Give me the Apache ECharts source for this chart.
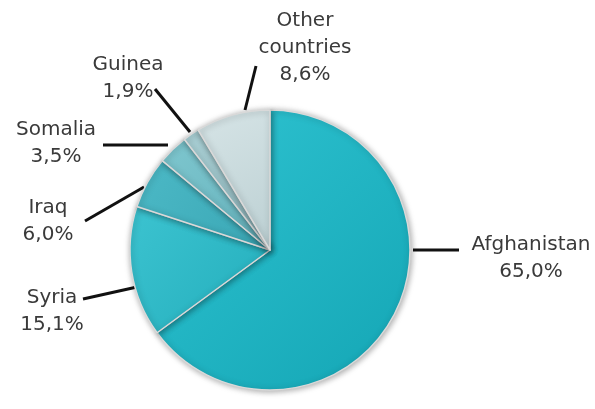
<!DOCTYPE html>
<html style="height: 100%">
<head>
    <meta charset="utf-8">
    <title>Asylum seekers by country</title>
    <script src="https://cdn.jsdelivr.net/npm/echarts@6/dist/echarts.min.js"></script>
</head>
<body style="height: 100%; margin: 0; background: #fff">
    <div id="chart" style="width: 595px; height: 409px"></div>
    <script>
        // data, clockwise from 12 o'clock
        const countries = ['Afghanistan', 'Syria', 'Iraq', 'Somalia', 'Guinea', 'Other countries'];
        const labelNames = ['Afghanistan', 'Syria', 'Iraq', 'Somalia', 'Guinea', 'Other\ncountries'];
        const shares = [65.0, 15.1, 6.0, 3.5, 1.9, 8.6];

        // slice colours (light / dark for the shading)
        const colorsLight = ['#2fc3d1', '#3cc3d0', '#4cb9c6', '#7ec6ce', '#a9cfd4', '#d6e4e6'];
        const colorsDark = ['#14a6b5', '#23aebc', '#3aa7b5', '#66b4be', '#93bcc2', '#bcd0d3'];

        // label anchor (text centre) and leader line for each slice
        const labelPos = [[531, 258], [52, 311], [48, 221], [56, 143], [128, 78], [305, 48]];
        const leaderLines = [
            [[413, 250], [459, 250]],
            [[83, 299], [137, 287]],
            [[85, 221], [144, 187]],
            [[103, 145], [168, 145]],
            [[155, 89], [190, 132]],
            [[256, 66], [245, 110]]
        ];

        const pieData = countries.map((c, i) => ({
            name: c,
            value: shares[i],
            itemStyle: {
                color: new echarts.graphic.LinearGradient(0, 0, 1, 1, [
                    { offset: 0, color: colorsLight[i] },
                    { offset: 1, color: colorsDark[i] }
                ])
            }
        }));

        const chart = echarts.init(document.getElementById('chart'), null, { renderer: 'canvas' });
        chart.setOption({
            animation: false,
            series: [{
                type: 'pie',
                center: [270, 250],
                radius: 140,
                startAngle: 90,
                clockwise: true,
                data: pieData,
                itemStyle: {
                    borderColor: '#d9d9d9',
                    borderWidth: 1.5,
                    shadowColor: 'rgba(0,0,0,0.35)',
                    shadowBlur: 6,
                    shadowOffsetX: 1,
                    shadowOffsetY: 1
                },
                label: {
                    show: true,
                    fontFamily: 'DejaVu Sans',
                    fontSize: 20,
                    lineHeight: 27,
                    color: '#3a3a3a',
                    align: 'center',
                    overflow: 'none',
                    formatter: p => labelNames[p.dataIndex] + '\n' +
                        p.value.toFixed(1).replace('.', ',') + '%'
                },
                labelLine: {
                    show: true,
                    lineStyle: { color: '#111', width: 3 }
                },
                labelLayout: p => ({
                    x: labelPos[p.dataIndex][0],
                    y: labelPos[p.dataIndex][1],
                    align: 'center',
                    verticalAlign: 'middle',
                    labelLinePoints: leaderLines[p.dataIndex]
                })
            }]
        });
    </script>
</body>
</html>
